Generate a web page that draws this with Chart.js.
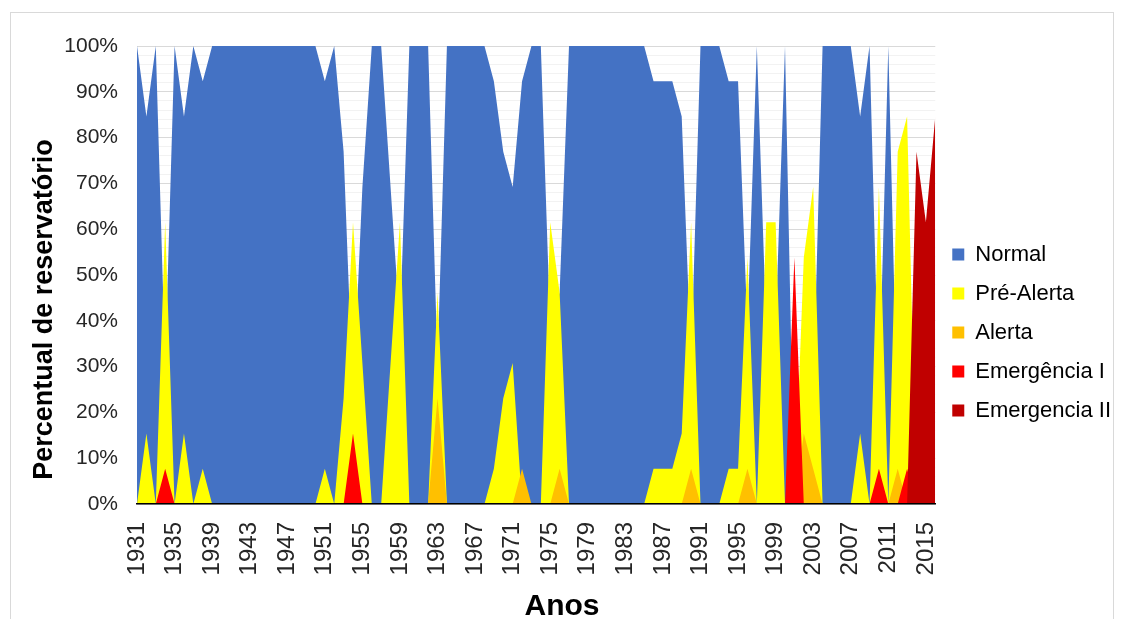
<!DOCTYPE html>
<html lang="pt">
<head>
<meta charset="utf-8">
<title>Percentual de reservatório por estado</title>
<script src="https://cdn.jsdelivr.net/npm/chart.js@4.4.1/dist/chart.umd.min.js"></script>
<style>
  html, body { margin: 0; padding: 0; background: #fff; }
  body { width: 1124px; height: 619px; overflow: hidden; position: relative; }
  .frame { position: absolute; left: 10px; top: 12px; width: 1102px; height: 640px; border: 1px solid #d9d9d9; }
  #chart { position: absolute; left: 0; top: 0; }
</style>
</head>
<body>
<div class="frame"></div>
<canvas id="chart" width="1124" height="619"></canvas>
<script>
const years = Array.from({ length: 86 }, (_, i) => String(1931 + i))

// % of reservoirs in each state, one value per year (1931-2016)
const normal = [
  100, 84.6, 100, 30.8, 100, 84.6, 100, 92.3, 100, 100,
  100, 100, 100, 100, 100, 100, 100, 100, 100, 100,
  92.3, 100, 76.9, 23.1, 69.2, 100, 100, 69.2, 38.5, 100,
  100, 100, 30.8, 100, 100, 100, 100, 100, 92.3, 76.9,
  69.2, 92.3, 100, 100, 38.5, 46.2, 100, 100, 100, 100,
  100, 100, 100, 100, 100, 92.3, 92.3, 92.3, 84.6, 30.8,
  100, 100, 100, 92.3, 92.3, 38.5, 100, 38.5, 38.5, 100,
  0, 30.8, 23.1, 100, 100, 100, 100, 84.6, 100, 23.1,
  100, 15.4, 7.7, 0, 0, 0
]
const preAlerta = [
  0, 15.4, 0, 61.5, 0, 15.4, 0, 7.7, 0, 0,
  0, 0, 0, 0, 0, 0, 0, 0, 0, 0,
  7.7, 0, 23.1, 61.5, 30.8, 0, 0, 30.8, 61.5, 0,
  0, 0, 46.2, 0, 0, 0, 0, 0, 7.7, 23.1,
  30.8, 0, 0, 0, 61.5, 46.2, 0, 0, 0, 0,
  0, 0, 0, 0, 0, 7.7, 7.7, 7.7, 15.4, 61.5,
  0, 0, 0, 7.7, 7.7, 53.8, 0, 61.5, 61.5, 0,
  0, 53.8, 69.2, 0, 0, 0, 0, 15.4, 0, 69.2,
  0, 76.9, 84.6, 0, 0, 0
]
const alerta = [
  0, 0, 0, 0, 0, 0, 0, 0, 0, 0,
  0, 0, 0, 0, 0, 0, 0, 0, 0, 0,
  0, 0, 0, 0, 0, 0, 0, 0, 0, 0,
  0, 0, 23.1, 0, 0, 0, 0, 0, 0, 0,
  0, 7.7, 0, 0, 0, 7.7, 0, 0, 0, 0,
  0, 0, 0, 0, 0, 0, 0, 0, 0, 7.7,
  0, 0, 0, 0, 0, 7.7, 0, 0, 0, 0,
  0, 15.4, 7.7, 0, 0, 0, 0, 0, 0, 0,
  0, 7.7, 0, 0, 0, 0
]
const emergenciaI = [
  0, 0, 0, 7.7, 0, 0, 0, 0, 0, 0,
  0, 0, 0, 0, 0, 0, 0, 0, 0, 0,
  0, 0, 0, 15.4, 0, 0, 0, 0, 0, 0,
  0, 0, 0, 0, 0, 0, 0, 0, 0, 0,
  0, 0, 0, 0, 0, 0, 0, 0, 0, 0,
  0, 0, 0, 0, 0, 0, 0, 0, 0, 0,
  0, 0, 0, 0, 0, 0, 0, 0, 0, 0,
  53.8, 0, 0, 0, 0, 0, 0, 0, 0, 7.7,
  0, 0, 7.7, 0, 0, 0
]
const emergenciaII = [
  0, 0, 0, 0, 0, 0, 0, 0, 0, 0,
  0, 0, 0, 0, 0, 0, 0, 0, 0, 0,
  0, 0, 0, 0, 0, 0, 0, 0, 0, 0,
  0, 0, 0, 0, 0, 0, 0, 0, 0, 0,
  0, 0, 0, 0, 0, 0, 0, 0, 0, 0,
  0, 0, 0, 0, 0, 0, 0, 0, 0, 0,
  0, 0, 0, 0, 0, 0, 0, 0, 0, 0,
  0, 0, 0, 0, 0, 0, 0, 0, 0, 0,
  0, 0, 0, 76.9, 61.5, 84.6
]

const fontFamily = "'Liberation Sans', Arial, sans-serif"
Chart.defaults.font.family = fontFamily

// areas overlap (not stacked): Normal sits at the back, Emergencia II in front
const series = [
  ['Normal', normal, '#4472C4'],
  ['Pré-Alerta', preAlerta, '#FFFF00'],
  ['Alerta', alerta, '#FFC000'],
  ['Emergência I', emergenciaI, '#FF0000'],
  ['Emergencia II', emergenciaII, '#C00000']
]

const datasets = series.map(([label, data, color], i) => ({
  label,
  data,
  backgroundColor: color,
  borderColor: color,
  borderWidth: 0,
  pointRadius: 0,
  pointHoverRadius: 0,
  tension: 0,
  fill: 'origin',
  order: series.length - 1 - i
}))

// axis titles, centred on the whole canvas
const axisTitles = {
  id: 'axisTitles',
  afterDraw(chart) {
    const { ctx, width, height } = chart
    ctx.save()
    ctx.fillStyle = '#000'
    ctx.textAlign = 'center'
    ctx.textBaseline = 'alphabetic'
    ctx.font = `bold 30px ${fontFamily}`
    ctx.fillText('Anos', width / 2, height - 4)
    ctx.translate(52, height / 2)
    ctx.rotate(-Math.PI / 2)
    ctx.font = `bold 27px ${fontFamily}`
    ctx.fillText('Percentual de reservatório', 0, 0)
    ctx.restore()
  }
}

new Chart(document.getElementById('chart'), {
  type: 'line',
  data: { labels: years, datasets },
  plugins: [axisTitles],
  options: {
    responsive: false,
    animation: false,
    events: [],
    layout: { padding: { top: 46, right: 3, bottom: 0, left: 0 } },
    plugins: {
      tooltip: { enabled: false },
      legend: {
        position: 'right',
        align: 'center',
        labels: {
          boxWidth: 12,
          boxHeight: 12,
          padding: 17,
          color: '#000',
          font: { size: 22 },
          sort: (a, b) => a.datasetIndex - b.datasetIndex
        }
      }
    },
    scales: {
      x: {
        grid: { display: false, drawTicks: false },
        border: { display: true, color: '#000', width: 1.5, z: 1 },
        ticks: {
          autoSkip: false,
          minRotation: 90,
          maxRotation: 90,
          padding: 18,
          color: '#262626',
          font: { size: 24 },
          callback: (v, i) => (i % 4 === 0 ? years[i] : null)
        },
        afterFit: s => { s.height = 115 }
      },
      y: {
        min: 0,
        max: 100,
        border: { display: false },
        grid: {
          drawTicks: false,
          color: c => (c.tick && c.tick.value % 10 === 0 ? '#d9d9d9' : '#f2f2f2')
        },
        ticks: {
          stepSize: 2,
          autoSkip: false,
          padding: 19,
          color: '#262626',
          font: { size: 21 },
          callback: v => (v % 10 === 0 ? v + '%' : '')
        },
        afterFit: s => { s.width = 137 }
      }
    }
  }
})
</script>
</body>
</html>
